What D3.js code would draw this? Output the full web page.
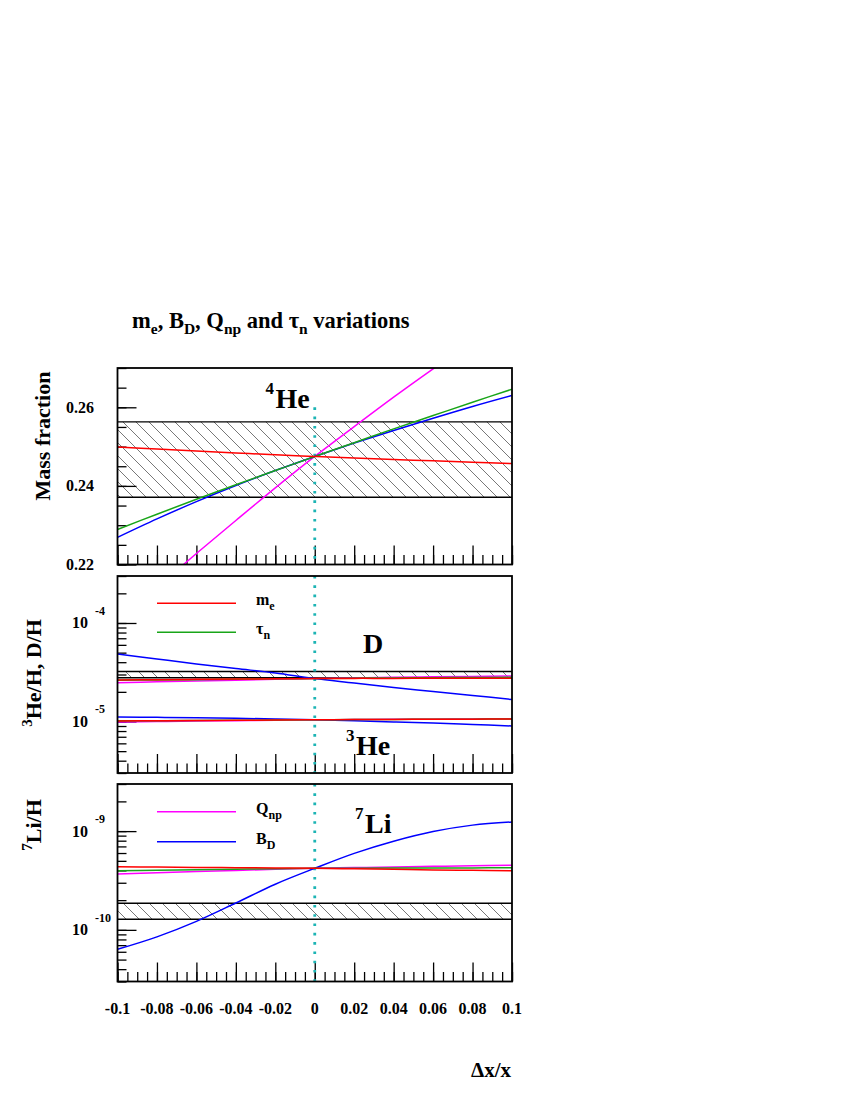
<!DOCTYPE html>
<html><head><meta charset="utf-8">
<script src="https://cdnjs.cloudflare.com/ajax/libs/d3/7.8.5/d3.min.js"></script>
<style>
body{margin:0;background:#fff}
text{font-family:"Liberation Serif","Times New Roman",serif;font-weight:bold;fill:#000}
</style>
</head><body>
<svg id="c" width="850" height="1100"></svg>
<script>
// ---------- data ----------
const xValues = [-0.1, -0.08, -0.06, -0.04, -0.02, 0, 0.02, 0.04, 0.06, 0.08, 0.1];
const xTickLabels = ["-0.1", "-0.08", "-0.06", "-0.04", "-0.02", "0", "0.02", "0.04", "0.06", "0.08", "0.1"];
const seriesNames = ["m_e", "tau_n", "Q_np", "B_D"];

// 4He mass fraction
const he4_me  = [0.2499, 0.2494, 0.2489, 0.2484, 0.2479, 0.2475, 0.2471, 0.2467, 0.2464, 0.2460, 0.2457];
const he4_tau = [0.2289, 0.2328, 0.2366, 0.2403, 0.2439, 0.2475, 0.2510, 0.2545, 0.2579, 0.2613, 0.2646];
const he4_qnp = [0.2055, 0.2142, 0.2228, 0.2312, 0.2395, 0.2475, 0.2551, 0.2626, 0.2698, 0.2768, 0.2836];
const he4_bd  = [0.2269, 0.2316, 0.2360, 0.2401, 0.2439, 0.2475, 0.2509, 0.2541, 0.2572, 0.2602, 0.2630];
const he4_band = [0.2371, 0.2563];

// D/H
const d_me  = [2.64e-5, 2.66e-5, 2.68e-5, 2.70e-5, 2.71e-5, 2.73e-5, 2.74e-5, 2.74e-5, 2.75e-5, 2.75e-5, 2.75e-5];
const d_tau = [2.62e-5, 2.64e-5, 2.66e-5, 2.68e-5, 2.71e-5, 2.73e-5, 2.75e-5, 2.77e-5, 2.78e-5, 2.80e-5, 2.81e-5];
const d_qnp = [2.48e-5, 2.53e-5, 2.58e-5, 2.63e-5, 2.68e-5, 2.73e-5, 2.77e-5, 2.81e-5, 2.84e-5, 2.87e-5, 2.90e-5];
const d_bd  = [4.84e-5, 4.31e-5, 3.84e-5, 3.45e-5, 3.11e-5, 2.73e-5, 2.46e-5, 2.21e-5, 2.02e-5, 1.84e-5, 1.67e-5];
const d_band = [2.78e-5, 3.22e-5];

// 3He/H
const he3_me  = [1.012e-5, 1.018e-5, 1.024e-5, 1.029e-5, 1.035e-5, 1.040e-5, 1.045e-5, 1.049e-5, 1.053e-5, 1.057e-5, 1.060e-5];
const he3_tau = [1.015e-5, 1.020e-5, 1.025e-5, 1.030e-5, 1.035e-5, 1.040e-5, 1.045e-5, 1.049e-5, 1.053e-5, 1.057e-5, 1.060e-5];
const he3_qnp = [0.988e-5, 0.999e-5, 1.010e-5, 1.020e-5, 1.030e-5, 1.040e-5, 1.046e-5, 1.052e-5, 1.057e-5, 1.062e-5, 1.067e-5];
const he3_bd  = [1.113e-5, 1.103e-5, 1.092e-5, 1.078e-5, 1.060e-5, 1.040e-5, 1.016e-5, 0.990e-5, 0.963e-5, 0.933e-5, 0.900e-5];

// 7Li/H
const li_me  = [4.36e-10, 4.33e-10, 4.29e-10, 4.26e-10, 4.23e-10, 4.20e-10, 4.15e-10, 4.10e-10, 4.05e-10, 4.01e-10, 3.97e-10];
const li_tau = [3.96e-10, 4.01e-10, 4.06e-10, 4.11e-10, 4.16e-10, 4.20e-10, 4.21e-10, 4.22e-10, 4.23e-10, 4.24e-10, 4.25e-10];
const li_qnp = [3.68e-10, 3.79e-10, 3.90e-10, 4.00e-10, 4.10e-10, 4.20e-10, 4.27e-10, 4.34e-10, 4.40e-10, 4.46e-10, 4.51e-10];
const li_bd  = [0.636e-10, 0.850e-10, 1.22e-10, 1.87e-10, 2.90e-10, 4.20e-10, 5.95e-10, 7.90e-10, 9.90e-10, 11.5e-10, 12.4e-10];
const li_band = [1.28e-10, 1.86e-10];

// ---------- drawing ----------
const colors = {m_e: "#ff0000", tau_n: "#19a519", Q_np: "#ff00ff", B_D: "#0000ff"};
const svg = d3.select("#c");
const X0 = 117.5, X1 = 512;
const x = d3.scaleLinear().domain([-0.1, 0.1]).range([X0, X1]);

const defs = svg.append("defs");
const pat = defs.append("pattern").attr("id", "hatch").attr("patternUnits", "userSpaceOnUse")
  .attr("width", 13).attr("height", 13);
pat.append("path").attr("d", "M0,0 L13,13 M-6.5,6.5 L6.5,19.5 M6.5,-6.5 L19.5,6.5")
  .attr("stroke", "#555").attr("stroke-width", 0.8);

const panels = [
  {top: 368, bot: 564.5, y: d3.scaleLinear().domain([0.22, 0.27]),
   bands: [he4_band],
   lines: [["Q_np", he4_qnp], ["B_D", he4_bd], ["tau_n", he4_tau], ["m_e", he4_me]],
   log: false, dotFrom: 0.26},
  {top: 576, bot: 773, y: d3.scaleLog().domain([3e-6, 3e-4]),
   bands: [d_band],
   lines: [["Q_np", d_qnp], ["B_D", d_bd], ["tau_n", d_tau], ["m_e", d_me],
           ["Q_np", he3_qnp], ["B_D", he3_bd], ["tau_n", he3_tau], ["m_e", he3_me]],
   log: true, majors: [1e-5, 1e-4], exps: ["-5", "-4"]},
  {top: 784, bot: 981.5, y: d3.scaleLog().domain([3e-11, 3e-9]),
   bands: [li_band],
   lines: [["Q_np", li_qnp], ["B_D", li_bd], ["tau_n", li_tau], ["m_e", li_me]],
   log: true, majors: [1e-10, 1e-9], exps: ["-10", "-9"]}
];

panels.forEach((p, i) => {
  const y = p.y.range([p.bot, p.top]);
  const g = svg.append("g");
  const clipId = "clip" + i;
  defs.append("clipPath").attr("id", clipId).append("rect")
    .attr("x", X0).attr("y", p.top).attr("width", X1 - X0).attr("height", p.bot - p.top);

  // hatched band
  p.bands.forEach(b => {
    g.append("rect").attr("x", X0).attr("width", X1 - X0)
      .attr("y", y(b[1])).attr("height", y(b[0]) - y(b[1]))
      .attr("fill", "url(#hatch)");
    [b[0], b[1]].forEach(v => g.append("line").attr("x1", X0).attr("x2", X1)
      .attr("y1", y(v)).attr("y2", y(v)).attr("stroke", "#000").attr("stroke-width", 1.4));
  });

  // x ticks (inward)
  const minorX = d3.range(-0.1, 0.1001, 0.005).map(v => +v.toFixed(3));
  const ax1 = g.append("g").attr("transform", `translate(0,${p.bot})`)
    .call(d3.axisBottom(x).tickValues(minorX).tickSize(-9.5).tickFormat(""));
  const ax2 = g.append("g").attr("transform", `translate(0,${p.bot})`)
    .call(d3.axisBottom(x).tickValues(xValues).tickSize(-19).tickFormat(""));
  [ax1, ax2].forEach(a => { a.select(".domain").remove(); a.selectAll("line").attr("stroke", "#000").attr("stroke-width", 1.3); });

  // y ticks
  let minorY, majorY;
  if (!p.log) {
    minorY = d3.range(0.22, 0.2701, 0.005).map(v => +v.toFixed(3));
    majorY = [0.22, 0.24, 0.26];
  } else {
    const [lo, hi] = p.y.domain();
    minorY = [];
    for (let e = Math.floor(Math.log10(lo)); e <= Math.ceil(Math.log10(hi)); e++)
      for (let m = 1; m <= 9; m++) { const v = m * Math.pow(10, e); if (v >= lo * 0.999 && v <= hi * 1.001) minorY.push(v); }
    majorY = p.majors;
  }
  const ay1 = g.append("g").attr("transform", `translate(${X0},0)`)
    .call(d3.axisLeft(y).tickValues(minorY).tickSize(-9).tickFormat(""));
  const ay2 = g.append("g").attr("transform", `translate(${X0},0)`)
    .call(d3.axisLeft(y).tickValues(majorY).tickSize(-19).tickFormat(""));
  [ay1, ay2].forEach(a => { a.select(".domain").remove(); a.selectAll("line").attr("stroke", "#000").attr("stroke-width", 1.3); });

  // y tick labels
  if (!p.log) {
    majorY.forEach(v => g.append("text").attr("x", 94).attr("y", y(v) + 5.5)
      .attr("text-anchor", "end").attr("font-size", 16).text(v.toFixed(2)));
  } else {
    p.majors.forEach((v, k) => {
      g.append("text").attr("x", 88).attr("y", y(v) + 5.5).attr("text-anchor", "end")
        .attr("font-size", 16).text("10");
      g.append("text").attr("x", 95).attr("y", y(v) - 8).attr("font-size", 12).text(p.exps[k]);
    });
  }

  // dotted x=0 line
  g.append("line").attr("x1", x(0)).attr("x2", x(0))
    .attr("y1", p.dotFrom !== undefined ? y(p.dotFrom) : p.top).attr("y2", p.bot)
    .attr("stroke", "#1cb4b4").attr("stroke-width", 2.8).attr("stroke-dasharray", "2.6 6.7");

  // curves
  const lg = g.append("g").attr("clip-path", `url(#${clipId})`);
  const line = d3.line().x((d, j) => x(xValues[j])).y(d => y(d)).curve(d3.curveCatmullRom.alpha(0.5));
  p.lines.forEach(([name, vals]) => {
    lg.append("path").attr("d", line(vals)).attr("fill", "none")
      .attr("stroke", colors[name]).attr("stroke-width", 1.5);
  });

  // frame
  g.append("rect").attr("x", X0).attr("y", p.top).attr("width", X1 - X0).attr("height", p.bot - p.top)
    .attr("fill", "none").attr("stroke", "#000").attr("stroke-width", 1.8);
});

// x tick labels on bottom panel
xValues.forEach((v, k) => {
  svg.append("text").attr("x", x(v)).attr("y", 1014).attr("text-anchor", "middle")
    .attr("font-size", 16).text(xTickLabels[k]);
});

// axis title
svg.append("text").attr("x", 511).attr("y", 1077).attr("text-anchor", "end").attr("font-size", 21).text("Δx/x");

// title
const t = svg.append("text").attr("x", 132).attr("y", 328).attr("font-size", 22.5);
t.append("tspan").text("m");
t.append("tspan").attr("dy", 6).attr("font-size", 15.5).text("e");
t.append("tspan").attr("dy", -6).text(", B");
t.append("tspan").attr("dy", 6).attr("font-size", 15.5).text("D");
t.append("tspan").attr("dy", -6).text(", Q");
t.append("tspan").attr("dy", 6).attr("font-size", 15.5).text("np");
t.append("tspan").attr("dy", -6).text(" and τ");
t.append("tspan").attr("dy", 6).attr("font-size", 15.5).text("n");
t.append("tspan").attr("dy", -6).text(" variations");

// y axis titles (rotated)
function yTitle(cx, cy, parts) {
  const tt = svg.append("text").attr("transform", `translate(${cx},${cy}) rotate(-90)`)
    .attr("text-anchor", "middle").attr("font-size", 22);
  parts.forEach(([s, sup]) => {
    if (sup) tt.append("tspan").attr("dy", -9).attr("font-size", 15).text(s);
    else tt.append("tspan").attr("dy", tt.selectAll("tspan").size() ? 9 : 0).text(s);
  });
}
yTitle(41, 436, [["Mass fraction", false]]);
yTitle(41, 673, [["3", true], ["He/H, D/H", false]]);
yTitle(41, 825, [["7", true], ["Li/H", false]]);

// panel labels
function isoLabel(xs, yb, sup, main) {
  svg.append("text").attr("x", xs).attr("y", yb - 14).attr("font-size", 17).text(sup);
  svg.append("text").attr("x", xs + 10).attr("y", yb).attr("font-size", 28).text(main);
}
isoLabel(265.5, 407.5, "4", "He");
svg.append("text").attr("x", 363).attr("y", 653).attr("font-size", 28).text("D");
isoLabel(346, 754.5, "3", "He");
isoLabel(355, 832.5, "7", "Li");

// legends
function legendEntry(yl, name, main, sub) {
  svg.append("line").attr("x1", 157).attr("x2", 236).attr("y1", yl).attr("y2", yl)
    .attr("stroke", colors[name]).attr("stroke-width", 1.5);
  const tt = svg.append("text").attr("x", 256).attr("y", yl + 2).attr("font-size", 16);
  tt.append("tspan").text(main);
  tt.append("tspan").attr("dy", 5).attr("font-size", 12).text(sub);
}
legendEntry(603.3, "m_e", "m", "e");
legendEntry(632.3, "tau_n", "τ", "n");
legendEntry(811.7, "Q_np", "Q", "np");
legendEntry(841.7, "B_D", "B", "D");
</script>
</body></html>
